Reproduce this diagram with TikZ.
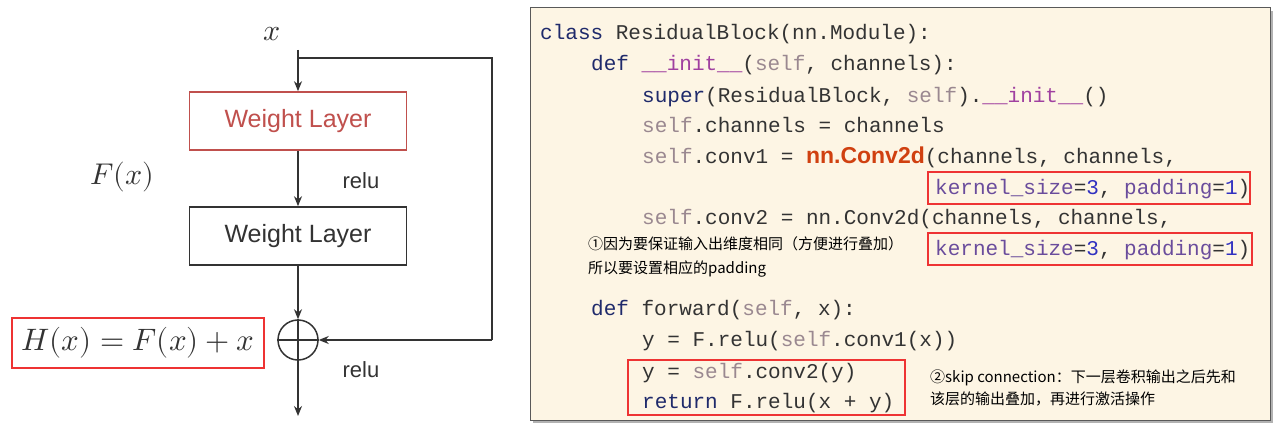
\documentclass[tikz,border=0pt]{standalone}
\usepackage{fontspec}
\usepackage{unicode-math}
\setmathfont{Latin Modern Math}
\setmainfont{Liberation Sans}
\newfontfamily\cjk{Noto Sans CJK SC}
\newfontfamily\codefont{Liberation Mono}
\newfontfamily\lsans{Liberation Sans}
\usetikzlibrary{arrows.meta}
\definecolor{kw}{HTML}{1F2A6B}
\definecolor{slf}{HTML}{9A8890}
\definecolor{dund}{HTML}{A040A0}
\definecolor{arg}{HTML}{6A4C9C}
\definecolor{num}{HTML}{3030C0}
\definecolor{conv}{HTML}{D04010}
\definecolor{txt}{HTML}{333333}
\definecolor{wl}{HTML}{C0504D}
\definecolor{panel}{HTML}{FDF5E4}
\definecolor{hl}{HTML}{EE3333}
\newcommand{\K}[1]{\textcolor{kw}{#1}}
\newcommand{\Sf}[1]{\textcolor{slf}{#1}}
\newcommand{\D}[1]{\textcolor{dund}{#1}}
\newcommand{\A}[1]{\textcolor{arg}{#1}}
\newcommand{\N}[1]{\textcolor{num}{#1}}
\tikzset{
 code/.style={anchor=base west,inner sep=0pt,font=\codefont\fontsize{21}{21}\selectfont,text=txt},
 note/.style={anchor=base west,inner sep=0pt,font=\cjk\fontsize{15}{15}\selectfont,text=black},
 wbox/.style={draw,line width=1.6pt,minimum width=217pt,minimum height=58pt,font=\lsans\fontsize{25}{25}\selectfont},
 hlbox/.style={draw=hl,line width=2pt},
 arr/.style={line width=1.5pt,draw=txt,-{Stealth[length=10pt,width=8pt]}},
 ln/.style={line width=1.5pt,draw=txt},
 lbl/.style={font=\lsans\fontsize{22}{22}\selectfont,text=txt}
}
\begin{document}
\begin{tikzpicture}[x=1pt,y=-1pt]
\useasboundingbox (0,0) rectangle (1274,427);
\fill[white] (0,0) rectangle (1274,427);
% left diagram
\node[font=\fontsize{30}{30}\selectfont,text=txt] (x) at (272,34) {$x$};
\coordinate (tr) at (492,58);
\coordinate (br) at (492,340);
\node[wbox,draw=wl,text=wl] (w1) at (298,121) {Weight Layer};
\node[wbox,draw=txt,text=txt] (w2) at (298,236) {Weight Layer};
\node[circle,draw=txt,line width=1.5pt,minimum size=40pt,inner sep=0pt] (plus) at (298,340) {};
\draw[ln] (plus.north) -- (plus.south) (plus.west) -- (plus.east);
\coordinate (out) at (298,416);
\draw[arr] (298,50) -- (w1.north);
\draw[arr] (w1.south) -- (w2.north);
\draw[arr] (w2.south) -- (plus.north);
\draw[arr] (plus.south) -- (out);
\draw[ln] (298,58) -- (tr) -- (br);
\draw[arr] (br) -- (plus.east);
\node[lbl] (r1) at (361,181) {relu};
\node[lbl] (r2) at (361,370) {relu};
\node[font=\fontsize{30}{30}\selectfont,text=txt] (fx) at (122,177) {$F(x)$};
\node[font=\fontsize{31}{31}\selectfont,text=txt,draw=hl,line width=2pt,minimum width=252pt,minimum height=50pt] (hx) at (138,343) {$H(x)=F(x)+x$};
% panel
\fill[gray!60] (533,11) rectangle (1273,423);
\draw[fill=panel,draw=gray!70!black,line width=1pt] (530,8) rectangle (1270,420);
\node[code] (c1) at (540,40) {\K{class} ResidualBlock(nn.Module):};
\node[code] (c2) at (591,71) {\K{def} \D{\_\_init\_\_}(\Sf{self}, channels):};
\node[code] (c3) at (642,103) {\K{super}(ResidualBlock, \Sf{self}).\D{\_\_init\_\_}()};
\node[code] (c4) at (642,133) {\Sf{self}.channels = channels};
\node[code] (c5) at (642,164) {\Sf{self}.conv1 = {\lsans\bfseries\fontsize{23}{23}\selectfont\color{conv}nn.Conv2d}(channels, channels,};
\node[code] (c6) at (935,195) {\A{kernel\_size}=\N{3}, \A{padding}=\N{1})};
\node[code] (c7) at (642,225) {\Sf{self}.conv2 = nn.Conv2d(channels, channels,};
\node[code] (c8) at (935,256) {\A{kernel\_size}=\N{3}, \A{padding}=\N{1})};
\node[code] (c9) at (591,316) {\K{def} forward(\Sf{self}, x):};
\node[code] (c10) at (642,347) {y = F.relu(\Sf{self}.conv1(x))};
\node[code] (c11) at (642,378) {y = \Sf{self}.conv2(y)};
\node[code] (c12) at (642,408) {\K{return} F.relu(x + y)};
\draw[hlbox] (928,172) rectangle (1250,204);
\draw[hlbox] (928,233) rectangle (1252,265);
\draw[hlbox] (628,360) rectangle (905,415);
\node[note] (n1) at (588,250) {①因为要保证输入出维度相同（方便进行叠加）};
\node[note] (n2) at (588,274) {所以要设置相应的padding};
\node[note] (n3) at (930,382) {②skip connection：下一层卷积输出之后先和};
\node[note] (n4) at (930,404) {该层的输出叠加，再进行激活操作};
\end{tikzpicture}
\end{document}
